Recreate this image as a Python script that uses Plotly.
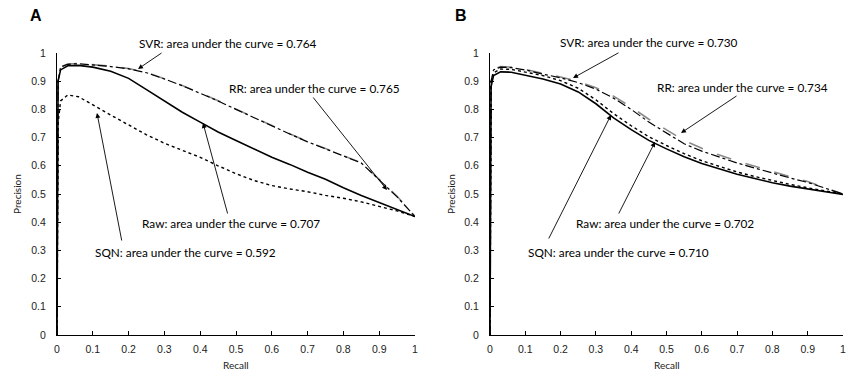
import plotly.graph_objects as go

# ---------------- data ----------------
recall = [0.0, 0.003, 0.01, 0.03, 0.06, 0.1, 0.15, 0.2, 0.25, 0.3, 0.35, 0.4,
          0.45, 0.5, 0.55, 0.6, 0.65, 0.7, 0.75, 0.8, 0.85, 0.9, 0.95, 1.0]

# Panel A
a_raw = [0.0, 0.90, 0.94, 0.955, 0.956, 0.95, 0.935, 0.91, 0.87, 0.83, 0.79, 0.755,
         0.72, 0.69, 0.66, 0.63, 0.605, 0.577, 0.552, 0.522, 0.495, 0.47, 0.445, 0.42]
a_sqn = [0.0, 0.75, 0.83, 0.851, 0.845, 0.815, 0.78, 0.745, 0.71, 0.68, 0.655, 0.63,
         0.60, 0.572, 0.548, 0.53, 0.518, 0.508, 0.495, 0.485, 0.472, 0.457, 0.44, 0.42]
a_svr = [0.0, 0.90, 0.95, 0.96, 0.962, 0.958, 0.952, 0.944, 0.93, 0.908, 0.884, 0.857,
         0.83, 0.80, 0.772, 0.742, 0.713, 0.685, 0.66, 0.635, 0.61, 0.55, 0.49, 0.42]
a_rr = [0.0, 0.90, 0.95, 0.961, 0.963, 0.959, 0.953, 0.945, 0.931, 0.909, 0.885, 0.858,
        0.831, 0.801, 0.773, 0.743, 0.714, 0.686, 0.661, 0.636, 0.611, 0.552, 0.492, 0.42]

# Panel B
b_raw = [0.0, 0.88, 0.92, 0.933, 0.932, 0.922, 0.908, 0.89, 0.862, 0.82, 0.77, 0.728,
         0.69, 0.66, 0.632, 0.608, 0.588, 0.57, 0.555, 0.54, 0.528, 0.518, 0.508, 0.498]
b_sqn = [0.0, 0.89, 0.93, 0.943, 0.942, 0.933, 0.92, 0.902, 0.875, 0.834, 0.785, 0.742,
         0.703, 0.672, 0.643, 0.618, 0.597, 0.578, 0.562, 0.547, 0.534, 0.522, 0.511, 0.50]
b_svr = [0.0, 0.90, 0.94, 0.95, 0.948, 0.94, 0.925, 0.912, 0.895, 0.872, 0.84, 0.80,
         0.755, 0.715, 0.678, 0.652, 0.63, 0.61, 0.592, 0.574, 0.557, 0.541, 0.521, 0.50]
b_rr = [0.0, 0.90, 0.942, 0.952, 0.95, 0.942, 0.928, 0.915, 0.899, 0.877, 0.847, 0.808,
        0.765, 0.726, 0.69, 0.662, 0.638, 0.617, 0.598, 0.579, 0.561, 0.544, 0.523, 0.50]

tick_vals = [0, 0.1, 0.2, 0.3, 0.4, 0.5, 0.6, 0.7, 0.8, 0.9, 1.0]
tick_text = ["0", "0.1", "0.2", "0.3", "0.4", "0.5", "0.6", "0.7", "0.8", "0.9", "1"]

labels_a = ["SVR: area under the curve = 0.764", "RR: area under the curve = 0.765",
            "Raw: area under the curve = 0.707", "SQN: area under the curve = 0.592"]
labels_b = ["SVR: area under the curve = 0.730", "RR: area under the curve = 0.734",
            "Raw: area under the curve = 0.702", "SQN: area under the curve = 0.710"]

# ---------------- figure ----------------
W, H = 848, 374
fig = go.Figure()

def add_panel(xa, ya, raw, sqn, svr, rr):
    fig.add_trace(go.Scatter(x=recall, y=rr, mode="lines", xaxis=xa, yaxis=ya,
                             line=dict(color="#8a8a8a", width=1.6, dash="longdash"),
                             showlegend=False))
    fig.add_trace(go.Scatter(x=recall, y=svr, mode="lines", xaxis=xa, yaxis=ya,
                             line=dict(color="black", width=1.2, dash="dashdot"),
                             showlegend=False))
    fig.add_trace(go.Scatter(x=recall, y=sqn, mode="lines", xaxis=xa, yaxis=ya,
                             line=dict(color="black", width=1.4, dash="dot"),
                             showlegend=False))
    fig.add_trace(go.Scatter(x=recall, y=raw, mode="lines", xaxis=xa, yaxis=ya,
                             line=dict(color="black", width=1.6),
                             showlegend=False))

add_panel("x", "y", a_raw, a_sqn, a_svr, a_rr)
add_panel("x2", "y2", b_raw, b_sqn, b_svr, b_rr)

def xp(px):
    return px / W

def yp(py):
    return 1 - py / H

ydom = [yp(335), yp(53)]
tickfont = dict(family="Liberation Sans, Arial", size=10.5, color="#222")
axis_common = dict(range=[0, 1], showgrid=False, zeroline=False, showline=True,
                   linecolor="black", linewidth=1.3, ticks="inside", ticklen=4,
                   tickcolor="black", tickwidth=1, tickvals=tick_vals, ticktext=tick_text,
                   tickfont=tickfont, automargin=False, ticklabeloverflow="allow")

fig.update_layout(
    width=W, height=H, margin=dict(l=0, r=0, t=0, b=0, pad=0, autoexpand=False),
    paper_bgcolor="white", plot_bgcolor="white", showlegend=False,
    xaxis=dict(domain=[xp(57), xp(415)], anchor="y", ticklabelstandoff=4, **axis_common),
    yaxis=dict(domain=ydom, anchor="x", ticklabelstandoff=8, **axis_common),
    xaxis2=dict(domain=[xp(490), xp(843)], anchor="y2", ticklabelstandoff=4, **axis_common),
    yaxis2=dict(domain=ydom, anchor="x2", ticklabelstandoff=8, **axis_common),
)

annfont = dict(family="Lato, Open Sans", size=11.8, color="black")
anns = []

# panel letters
anns.append(dict(text="<b>A</b>", x=xp(36), y=yp(16), xref="paper", yref="paper",
                 xanchor="center", yanchor="middle",
                 showarrow=False, font=dict(family="Liberation Sans, Arial", size=16, color="black")))
anns.append(dict(text="<b>B</b>", x=xp(461), y=yp(16), xref="paper", yref="paper",
                 xanchor="center", yanchor="middle",
                 showarrow=False, font=dict(family="Liberation Sans, Arial", size=16, color="black")))

# axis titles
axfont = dict(family="Lato, Open Sans", size=10, color="#222")
for cx in (236, 667):
    anns.append(dict(text="Recall", x=xp(cx), y=yp(365), xref="paper", yref="paper",
                     xanchor="center", yanchor="middle",
                     showarrow=False, font=axfont))
for cx in (17, 451):
    anns.append(dict(text="Precision", x=xp(cx), y=yp(194), xref="paper", yref="paper",
                     xanchor="center", yanchor="middle",
                     showarrow=False, textangle=-90, font=axfont))

# text labels (left px, center py)
text_pos_a = [(137, 43), (227, 88), (140, 224), (93, 252)]
text_pos_b = [(558, 42), (655, 87), (574, 224), (526, 252)]
for lab, (lx, ly) in list(zip(labels_a, text_pos_a)) + list(zip(labels_b, text_pos_b)):
    anns.append(dict(text=lab, x=xp(lx), y=yp(ly), xref="paper", yref="paper",
                     xanchor="left", yanchor="middle", showarrow=False, font=annfont))

# arrows (tail px -> tip px)
arrows = [((163, 52), (138, 69)), ((312, 96), (387, 190)), ((228, 215), (203, 123)),
          ((122, 242), (97, 113)),
          ((620, 52), (573, 78)), ((738, 95), (681, 133)), ((618, 215), (655, 142)),
          ((548, 240), (611, 115))]
for (tx, ty), (hx, hy) in arrows:
    anns.append(dict(text="", x=xp(hx), y=yp(hy), xref="paper", yref="paper",
                     ax=tx - hx, ay=ty - hy, axref="pixel", ayref="pixel",
                     showarrow=True, arrowhead=2, arrowsize=1.1, arrowwidth=0.9,
                     arrowcolor="black", standoff=0))

fig.update_layout(annotations=anns)
fig.write_html("out.html", config={"displayModeBar": False},
               post_script="document.body.style.margin='0px';document.body.style.padding='0px';")
